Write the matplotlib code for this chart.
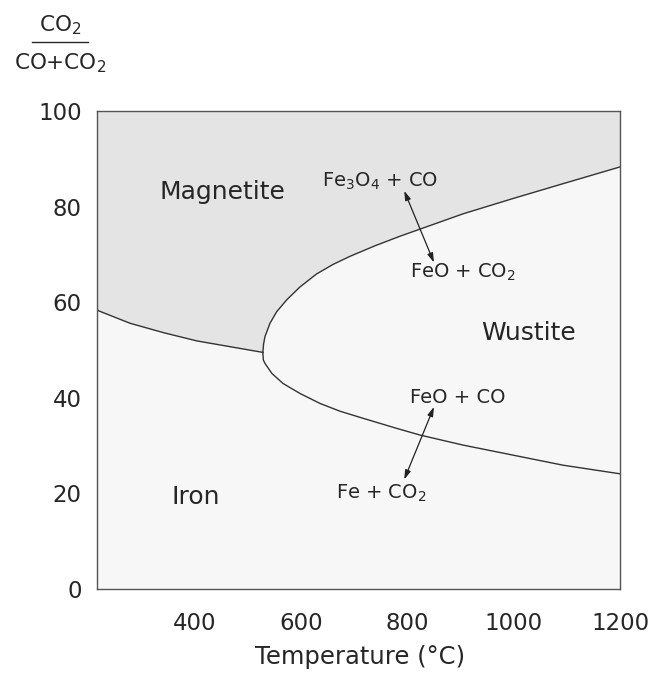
import matplotlib
matplotlib.use("Agg")
import matplotlib.pyplot as plt
from matplotlib.lines import Line2D
import matplotlib.transforms as mtransforms

plt.rcParams['font.family'] = ['DejaVu Sans']
plt.rcParams['mathtext.fontset'] = 'dejavusans'

# ---- data ----
# Magnetite / Iron boundary (left branch, ending at the nose)
mag_iron_T = [216, 219, 278, 342, 404, 466, 528]
mag_iron_y = [58.5, 58.2, 55.6, 53.6, 51.9, 50.7, 49.5]
# Magnetite / Wustite boundary (upper branch, starting at the nose)
mag_wus_T = [528, 529.5, 532, 541.5, 554, 573, 598, 629, 660, 692, 739,
             786, 824, 905, 999, 1093, 1200]
mag_wus_y = [49.5, 51.3, 52.8, 55.6, 58.0, 60.5, 63.2, 65.9, 67.9, 69.6, 71.8,
             73.8, 75.3, 78.5, 81.7, 84.8, 88.3]
# Wustite / Iron boundary (lower branch, starting at the nose)
wus_iron_T = [528, 529, 532, 545, 566, 598, 636, 673, 717, 780, 824, 905,
              999, 1093, 1200]
wus_iron_y = [49.5, 47.9, 47.2, 45.1, 43.0, 40.9, 38.8, 37.2, 35.7, 33.6, 32.2,
              30.1, 28.0, 25.9, 24.1]

x_ticks = [400, 600, 800, 1000, 1200]
y_ticks = [0, 20, 40, 60, 80, 100]

phase_labels = ["Magnetite", "Wustite", "Iron"]
phase_T = [452, 1027, 402]
phase_y = [81.6, 52.1, 17.8]

reaction_labels = ["Fe$_3$O$_4$ + CO", "FeO + CO$_2$",
                   "FeO + CO", "Fe + CO$_2$"]
reaction_T = [749, 904, 895, 750]
reaction_y = [84.2, 65.1, 38.9, 18.8]

arrow_start_T = [794, 794]
arrow_start_y = [83.3, 22.9]
arrow_end_T = [850, 850]
arrow_end_y = [68.3, 38.1]

XLIM = (216, 1200)
YLIM = (0, 100)

# ---- figure ----
fig = plt.figure(figsize=(6.62, 6.79), dpi=100)
ax = fig.add_axes([97/662, 1 - 589/679, 523/662, 478/679])
ax.set_xlim(*XLIM)
ax.set_ylim(*YLIM)
ax.set_facecolor('#f7f7f7')

txt_col = '#262626'
line_col = '#333333'

# magnetite field: top edge, down the right edge, back along the boundaries
poly_T = [XLIM[0], XLIM[1]] + mag_wus_T[::-1] + mag_iron_T[::-1]
poly_y = [YLIM[1], YLIM[1]] + mag_wus_y[::-1] + mag_iron_y[::-1]
ax.fill(poly_T, poly_y, color='#e4e4e4', lw=0, zorder=1)

for T, y in [(mag_iron_T, mag_iron_y), (mag_wus_T, mag_wus_y), (wus_iron_T, wus_iron_y)]:
    ax.plot(T, y, color=line_col, lw=1.0, zorder=3, solid_joinstyle='round')

for lab, T, y in zip(phase_labels, phase_T, phase_y):
    ax.text(T, y, lab, ha='center', va='baseline', fontsize=18, color=txt_col, zorder=4)

for lab, T, y in zip(reaction_labels, reaction_T, reaction_y):
    ax.text(T, y, lab, ha='center', va='baseline', fontsize=14, color=txt_col, zorder=4)

for x0, y0, x1, y1 in zip(arrow_start_T, arrow_start_y, arrow_end_T, arrow_end_y):
    ax.annotate('', xy=(x1, y1), xytext=(x0, y0),
                arrowprops=dict(arrowstyle='<|-|>,head_length=0.55,head_width=0.17',
                                color='#222222', lw=0.9, shrinkA=0, shrinkB=0),
                zorder=5)

# axes styling
for s in ax.spines.values():
    s.set_color('#555555')
    s.set_linewidth(1.0)
    s.set_zorder(6)
ax.set_yticks(y_ticks)
ax.set_yticklabels([str(v) for v in y_ticks], fontsize=16.5, color=txt_col)
ax.tick_params(axis='y', length=0, pad=11)
ax.set_xticks([])

# x tick labels (no tick marks in the original)
trans = mtransforms.blended_transform_factory(ax.transData, ax.transAxes)
for v in x_ticks:
    ax.text(v, -0.073, str(v), transform=trans, ha='center', va='center',
            fontsize=16.5, color=txt_col, clip_on=False)

ax.text(0.503, -0.142, "Temperature (°C)", transform=ax.transAxes, ha='center',
        va='center', fontsize=17.5, color=txt_col)

# y-axis label as a stacked fraction
fig.text(60/662, 1 - 31/679, "CO$_2$", ha='center', va='baseline',
         fontsize=15.5, color=txt_col)
fig.text(60/662, 1 - 69/679, "CO+CO$_2$", ha='center', va='baseline',
         fontsize=15.5, color=txt_col)
fig.add_artist(Line2D([32/662, 88/662], [1 - 42/679, 1 - 42/679],
                      transform=fig.transFigure, color=txt_col, lw=1.0))

fig.savefig("out.png", dpi=100, facecolor='white')
